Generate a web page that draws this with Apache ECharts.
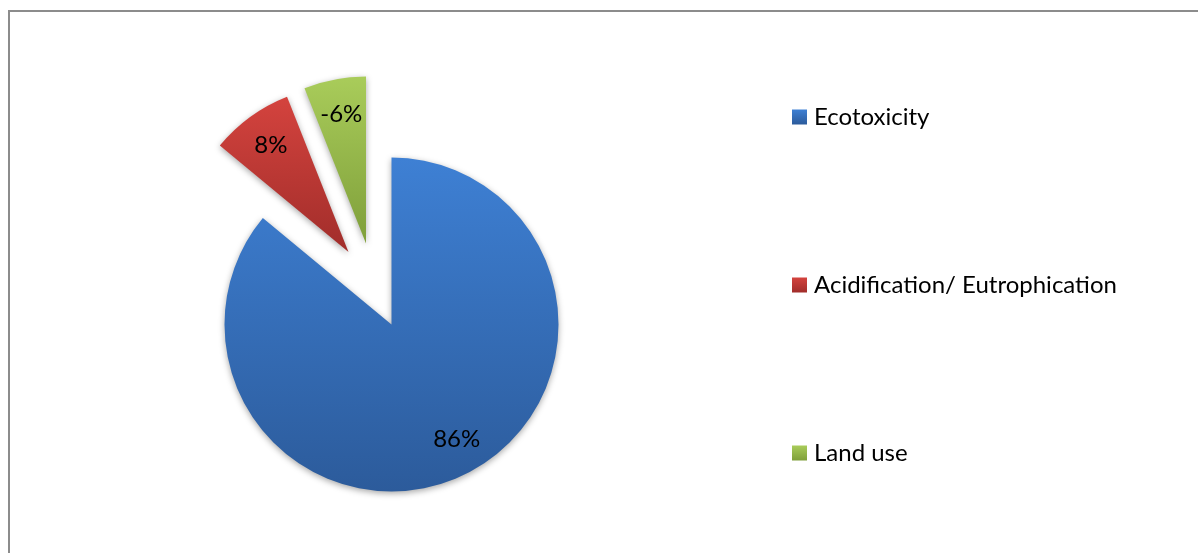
<!DOCTYPE html>
<html>
<head>
<meta charset="utf-8">
<script src="https://cdn.jsdelivr.net/npm/echarts@6/dist/echarts.min.js"></script>
<style>
  html, body { margin: 0; padding: 0; background: #fff; }
  #chart { width: 1198px; height: 553px; }
</style>
</head>
<body>
<div id="chart"></div>
<script>
// Impact categories and their signed shares (percent of total impact)
const categories = ['Ecotoxicity', 'Acidification/ Eutrophication', 'Land use'];
const shares = [86, 8, -6];

// Slice fills: light at the top, darker toward the bottom
const fills = [
  ['#3e80d4', '#2c5b9b'],
  ['#d4433e', '#a12d2a'],
  ['#a9cc5a', '#7f9f3a']
];
const FONT = 'Lato, "Open Sans", sans-serif';
const R = 167;
// Pie centre for each slice (the smaller slices are pulled out)
const centers = [[391.5, 324.5], [348.5, 252], [366, 243.5]];
const LABEL_R = 129;

function grad(c) {
  return new echarts.graphic.LinearGradient(0, 0, 0, 1, [
    { offset: 0, color: c[0] },
    { offset: 1, color: c[1] }
  ]);
}

const series = [];
categories.forEach((_, i) => {
  // visible slice i, other slices left empty so the angles stay shared
  series.push({
    type: 'pie',
    center: centers[i],
    radius: [0, R],
    startAngle: 90,
    clockwise: true,
    silent: true,
    animation: false,
    label: { show: false },
    labelLine: { show: false },
    emphasis: { disabled: true },
    data: categories.map((name, j) => ({
      name,
      value: Math.abs(shares[j]),
      itemStyle: j === i
        ? { color: grad(fills[j]), shadowColor: 'rgba(0,0,0,0.35)', shadowBlur: 6, shadowOffsetY: 2 }
        : { color: 'rgba(0,0,0,0)' }
    }))
  });
  // label ring: an invisible pie whose mid radius carries the value text
  series.push({
    type: 'pie',
    center: centers[i],
    radius: [0, LABEL_R * 2],
    startAngle: 90,
    clockwise: true,
    silent: true,
    animation: false,
    labelLine: { show: false },
    emphasis: { disabled: true },
    labelLayout: i === 0 ? { dx: 9, dy: -5 } : undefined,
    label: {
      show: true,
      position: 'inside',
      fontFamily: FONT,
      fontSize: 24,
      color: '#000',
      formatter: p => shares[p.dataIndex] + '%'
    },
    data: categories.map((name, j) => ({
      name,
      value: Math.abs(shares[j]),
      itemStyle: { color: 'rgba(0,0,0,0)' },
      label: { show: j === i }
    }))
  });
});

const chart = echarts.init(document.getElementById('chart'), null, { renderer: 'canvas' });
chart.setOption({
  backgroundColor: '#fff',
  animation: false,
  graphic: [{
    type: 'rect',
    shape: { x: 9, y: 11, width: 2000, height: 2000 },
    style: { fill: 'none', stroke: '#8c8c8c', lineWidth: 2 },
    silent: true
  }],
  legend: {
    orient: 'vertical',
    left: 792,
    top: 104,
    padding: 0,
    icon: 'rect',
    itemWidth: 15,
    itemHeight: 15,
    itemGap: 142,
    selectedMode: false,
    textStyle: { fontFamily: FONT, fontSize: 24, color: '#000', lineHeight: 26, padding: [0, 0, 0, 2] },
    data: categories.map((name, i) => ({ name, itemStyle: { color: grad(fills[i]) } }))
  },
  series
});
</script>
</body>
</html>
